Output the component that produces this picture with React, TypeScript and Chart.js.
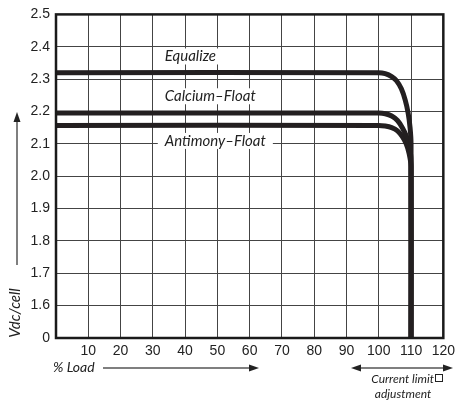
import React, { useEffect, useRef } from "react";
import { Chart, registerables } from "chart.js";

Chart.register(...registerables);

const xTicks = [10, 20, 30, 40, 50, 60, 70, 80, 90, 100, 110, 120];
const yTickLabels = ["0", "1.6", "1.7", "1.8", "1.9", "2.0", "2.1", "2.2", "2.3", "2.4", "2.5"];

const equalizeX = [0, 100, 102, 104, 105.5, 107, 108.2, 109.1, 109.7, 110, 110];
const equalizeY = [2.32, 2.32, 2.317, 2.308, 2.295, 2.27, 2.235, 2.195, 2.15, 2.1, 1.5];

const calciumX = [0, 100, 102, 104, 105.8, 107.3, 108.5, 109.4, 110, 110];
const calciumY = [2.195, 2.195, 2.193, 2.186, 2.172, 2.15, 2.125, 2.095, 2.05, 1.5];

const antimonyX = [0, 100, 102, 104, 105.8, 107.3, 108.5, 109.4, 110, 110];
const antimonyY = [2.157, 2.157, 2.155, 2.15, 2.14, 2.122, 2.1, 2.07, 2.03, 1.5];

const seriesLabels = ["Equalize", "Calcium\u2013Float", "Antimony\u2013Float"];
const labelAnchors = [
  { x: 33.7, y: 2.37 },
  { x: 33.7, y: 2.247 },
  { x: 33.7, y: 2.109 },
];

const LINE = "#231f20";
const ITALIC = "italic 15px Lato, 'Open Sans', sans-serif";

function toPoints(xs: number[], ys: number[]) {
  return xs.map((x, i) => ({ x, y: ys[i] }));
}

function arrowHead(ctx: CanvasRenderingContext2D, x: number, y: number, dx: number, dy: number) {
  const len = 10;
  const w = 3.5;
  const px = -dy;
  const py = dx;
  ctx.beginPath();
  ctx.moveTo(x, y);
  ctx.lineTo(x - dx * len + px * w, y - dy * len + py * w);
  ctx.lineTo(x - dx * len - px * w, y - dy * len - py * w);
  ctx.closePath();
  ctx.fill();
}

function line(ctx: CanvasRenderingContext2D, x1: number, y1: number, x2: number, y2: number) {
  ctx.beginPath();
  ctx.moveTo(x1, y1);
  ctx.lineTo(x2, y2);
  ctx.stroke();
}

const decorPlugin = {
  id: "decor",
  afterDraw(chart: any) {
    const ctx: CanvasRenderingContext2D = chart.ctx;
    const { left, right, top, bottom } = chart.chartArea;
    const xs = chart.scales.x;
    const ys = chart.scales.y;
    ctx.save();

    // frame
    ctx.strokeStyle = "#1a1a1a";
    ctx.lineWidth = 2.5;
    ctx.strokeRect(left, top, right - left, bottom - top);

    // series labels with white background
    ctx.font = ITALIC;
    ctx.textBaseline = "middle";
    ctx.textAlign = "left";
    seriesLabels.forEach((t, i) => {
      const px = xs.getPixelForValue(labelAnchors[i].x);
      const py = ys.getPixelForValue(labelAnchors[i].y);
      const w = ctx.measureText(t).width;
      ctx.fillStyle = "#fff";
      ctx.fillRect(px - 7, py - 8, w + 14, 16);
      ctx.fillStyle = "#222";
      ctx.fillText(t, px, py);
    });

    // arrows
    ctx.strokeStyle = "#555";
    ctx.fillStyle = "#222";
    ctx.lineWidth = 1.5;
    // y axis arrow
    line(ctx, 17, 265, 17, 118);
    arrowHead(ctx, 17, 112, 0, -1);
    // % Load arrow
    line(ctx, 103, 368, 252, 368);
    arrowHead(ctx, 259, 368, 1, 0);
    // current limit double arrow
    line(ctx, 358, 368, 446, 368);
    arrowHead(ctx, 351, 368, -1, 0);
    arrowHead(ctx, 453, 368, 1, 0);

    // axis titles
    ctx.fillStyle = "#222";
    ctx.font = "italic 15px Lato, 'Open Sans', sans-serif";
    ctx.save();
    ctx.translate(15, 313);
    ctx.rotate(-Math.PI / 2);
    ctx.textAlign = "center";
    ctx.textBaseline = "middle";
    ctx.fillText("Vdc/cell", 0, 0);
    ctx.restore();

    ctx.font = "italic 14px Lato, 'Open Sans', sans-serif";
    ctx.textAlign = "left";
    ctx.textBaseline = "middle";
    ctx.fillText("% Load", 53, 367);

    ctx.font = "italic 12px Lato, 'Open Sans', sans-serif";
    ctx.textAlign = "right";
    ctx.fillText("Current limit", 434, 379);
    ctx.textAlign = "center";
    ctx.fillText("adjustment", 403, 394);
    ctx.strokeStyle = "#222";
    ctx.lineWidth = 1;
    ctx.strokeRect(435.5, 374.5, 7, 7);

    ctx.restore();
  },
};

export default function App() {
  const ref = useRef<HTMLCanvasElement | null>(null);

  useEffect(() => {
    if (!ref.current) return;
    const ds = (xs: number[], ys: number[]) => ({
      data: toPoints(xs, ys),
      showLine: true,
      borderColor: LINE,
      backgroundColor: LINE,
      borderWidth: 5,
      pointRadius: 0,
      tension: 0.15,
      borderJoinStyle: "round" as const,
      borderCapStyle: "butt" as const,
      fill: false,
    });
    const chart = new Chart(ref.current, {
      type: "scatter",
      data: {
        datasets: [
          ds(equalizeX, equalizeY),
          ds(calciumX, calciumY),
          ds(antimonyX, antimonyY),
        ],
      },
      plugins: [decorPlugin],
      options: {
        animation: false,
        responsive: false,
        layout: { padding: { top: 13, right: 12, left: 0, bottom: 0 } },
        plugins: { legend: { display: false }, tooltip: { enabled: false } },
        scales: {
          x: {
            type: "linear",
            min: 0,
            max: 120,
            border: { display: false },
            grid: { color: "#444", lineWidth: 1, drawTicks: false },
            ticks: {
              stepSize: 10,
              padding: 5,
              color: "#222",
              font: { family: "'Liberation Sans', Arial, sans-serif", size: 14 },
              callback: (v: any) => (xTicks.includes(Number(v)) ? String(v) : ""),
            },
            afterFit: (s: any) => {
              s.height = 62;
            },
          },
          y: {
            type: "linear",
            min: 1.5,
            max: 2.5,
            border: { display: false },
            grid: { color: "#444", lineWidth: 1, drawTicks: false },
            ticks: {
              stepSize: 0.1,
              padding: 6,
              color: "#222",
              font: { family: "'Liberation Sans', Arial, sans-serif", size: 14 },
              callback: (v: any) => {
                const idx = Math.round((Number(v) - 1.5) * 10);
                return yTickLabels[idx] ?? "";
              },
            },
            afterFit: (s: any) => {
              s.width = 56;
            },
          },
        },
      },
    });
    return () => chart.destroy();
  }, []);

  return (
    <div style={{ position: "fixed", left: 0, top: 0, width: 460, height: 400, background: "#fff" }}>
      <canvas ref={ref} width={460} height={400} style={{ width: 460, height: 400, display: "block" }} />
    </div>
  );
}
